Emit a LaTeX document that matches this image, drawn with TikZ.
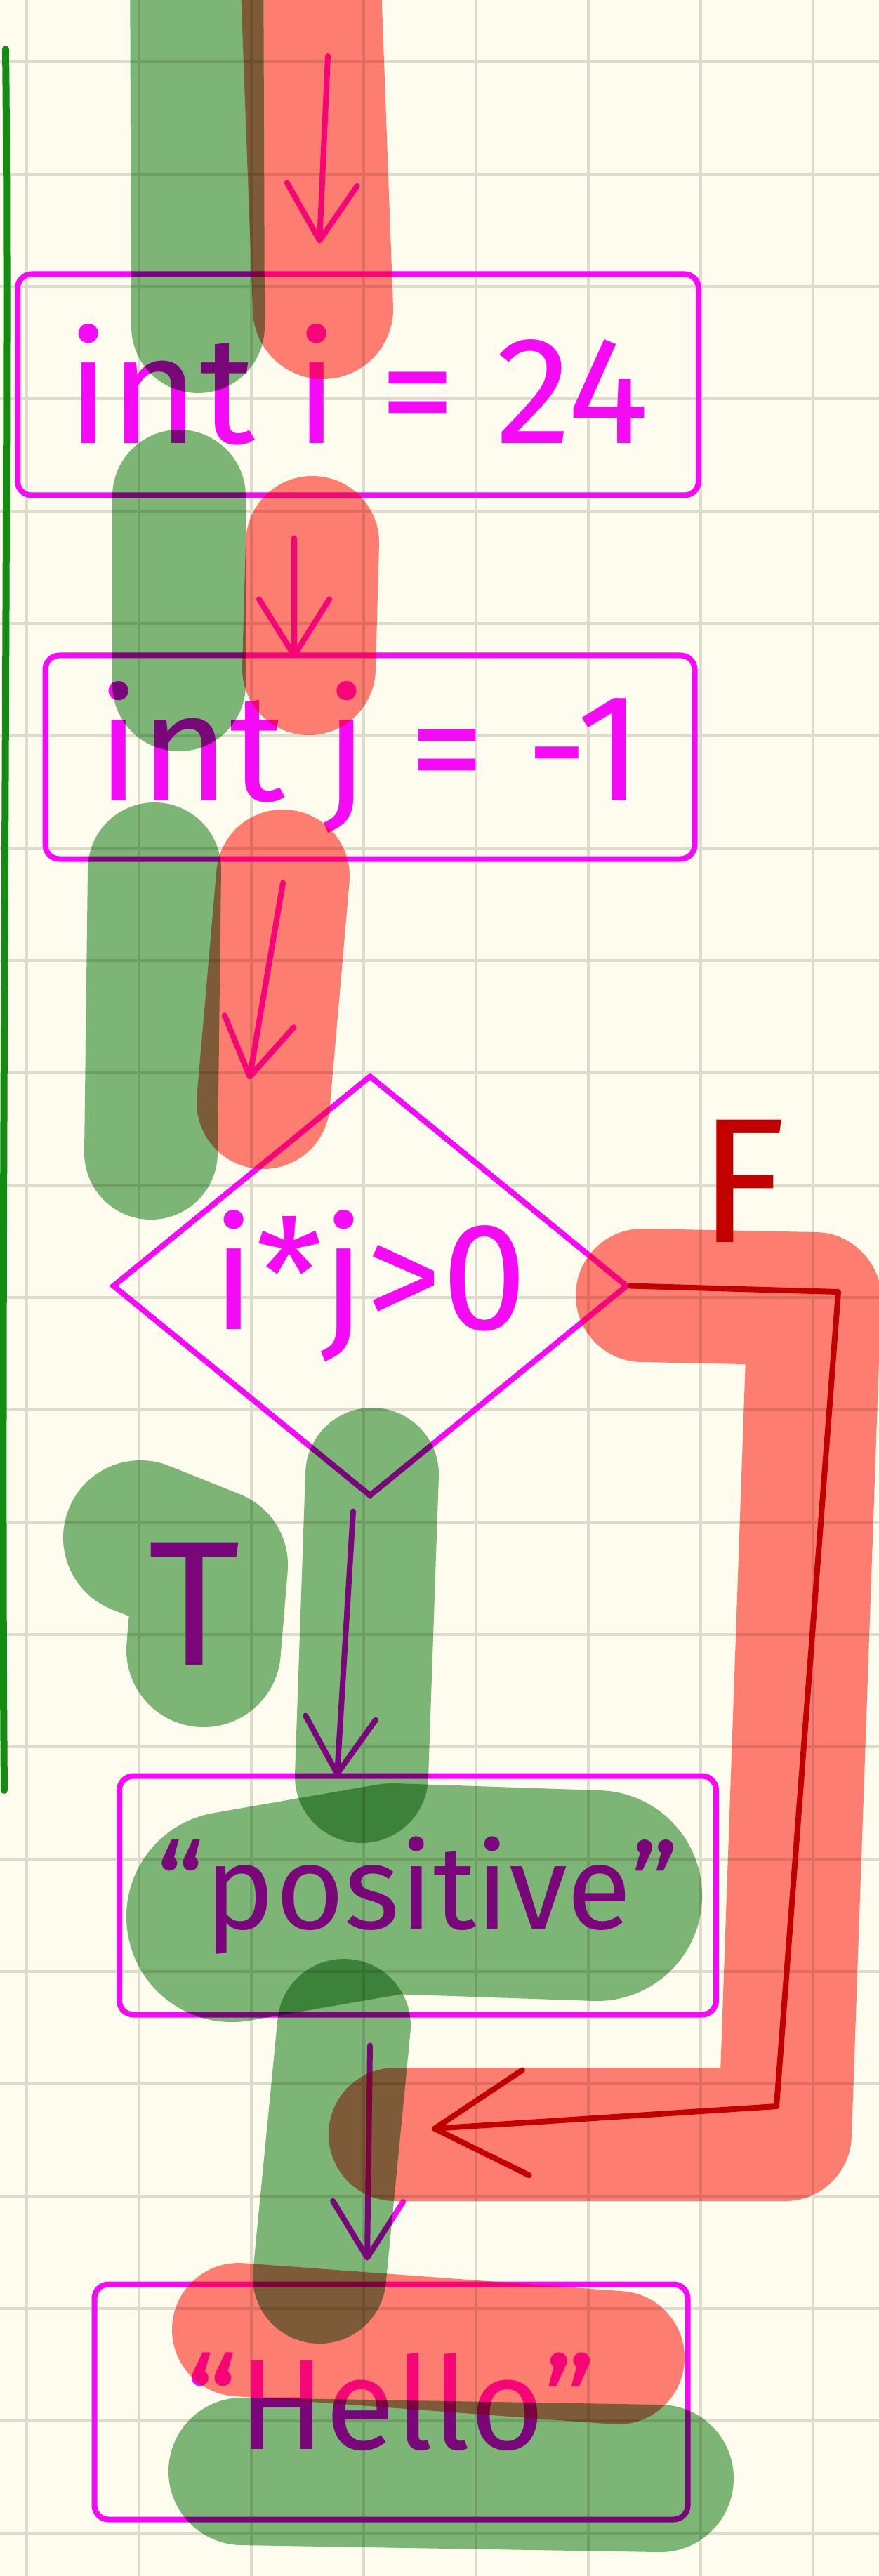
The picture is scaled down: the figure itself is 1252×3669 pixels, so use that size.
\documentclass[tikz,border=0pt]{standalone}
\usepackage{fontspec}
\setsansfont{Fira Sans}
\usetikzlibrary{arrows.meta, positioning, calc, shapes.geometric}

\definecolor{paper}{RGB}{253,252,238}
\definecolor{gridgray}{RGB}{222,219,205}
\definecolor{ink}{RGB}{245,10,245}
\definecolor{inkred}{RGB}{195,0,0}
\definecolor{margingreen}{RGB}{20,140,20}
\definecolor{hlgreen}{RGB}{126,184,128}
\definecolor{hlred}{RGB}{255,128,122}

\begin{document}
\begin{tikzpicture}[
    x=0.1mm, y=-0.1mm,
    node distance=22mm,
    stmt/.style={rectangle, draw=ink, line width=0.8mm, rounded corners=2mm,
                 inner sep=0pt, text=ink, font=\sffamily\fontsize{62}{64}\selectfont},
    decision/.style={diamond, shape aspect=1.22, draw=ink, line width=0.8mm, inner sep=0pt,
                 text=ink, font=\sffamily\fontsize{62}{64}\selectfont},
    branch/.style={font=\sffamily\fontsize{72}{74}\selectfont},
    flow/.style={draw=ink, line width=0.8mm, line cap=round, line join=round,
                 -{Straight Barb[round, length=8mm, width=10mm]}},
    falseflow/.style={draw=inkred, line width=0.8mm, line cap=round, line join=round,
                 -{Straight Barb[round, length=13mm, width=15mm]}},
    gridline/.style={draw=gridgray, line width=0.4mm},
    hlg/.style={draw=hlgreen, line width=19mm, line cap=round, line join=round, blend mode=multiply},
    hlr/.style={draw=hlred, line width=19mm, line cap=round, line join=round, blend mode=multiply}
]

% paper and grid
\fill[paper] (0,0) rectangle (1252,3669);
\useasboundingbox (0,0) rectangle (1252,3669);
\foreach \gx in {38,198,...,1158}
    \draw[gridline] (\gx,0) -- (\gx,3669);
\foreach \gy in {88,248,...,3608}
    \draw[gridline] (0,\gy) -- (1252,\gy);
\draw[margingreen, line width=1mm, line cap=round] (8,70) .. controls (14,600) and (0,1800) .. (6,2550);

% statements
\coordinate (entry) at (467,80);
\node[stmt, minimum width=97mm, minimum height=31.5mm] (init_i) at (510,548) {int i = 24};
\node[stmt, minimum width=92.5mm, minimum height=29mm, below=22mm of init_i, xshift=1.7mm] (init_j) {int j = -1};
\node[decision, minimum width=73.4mm, minimum height=60mm, below=30mm of init_j] (cond) {i*j>0};
\node[stmt, minimum width=85mm, minimum height=34mm, below=39mm of cond, xshift=6.8mm,
      font=\sffamily\fontsize{48}{50}\selectfont] (print_pos) {“positive”};
\node[stmt, minimum width=84.5mm, minimum height=33.5mm, below=37.6mm of print_pos, xshift=-3.8mm,
      font=\sffamily\fontsize{52}{54}\selectfont] (print_hello) {“Hello”};

% branch labels
\node[branch, text=ink] (lbl_t) at (277,2284) {T};
\node[branch, text=inkred] (lbl_f) at (1058,1682) {F};

% arrows
\draw[flow] (entry) -- ($(init_i.north)+(-55,-40)$);
\draw[flow] ($(init_i.south)+(-91,57)$) -- ($(init_j.north)+(-108,8)$);
\draw[flow] ($(init_j.south)+(-124,30)$) -- ($(cond.north)+(-172,10)$);
\draw[flow] ($(cond.south)+(-24,17)$) -- ($(print_pos.north)+(-115,5)$);
\draw[flow] ($(print_pos.south)+(-68,40)$) -- ($(print_hello.north)+(-34,-30)$);

% false branch
\coordinate (f_top) at (1194,1840);
\coordinate (f_bottom) at (1106,3000);
\coordinate (merge) at (615,3032);
\draw[falseflow] (cond.east) -- (f_top) -- (f_bottom) -- (merge);

% highlighter: true path
\draw[hlg] (280,-100) -- (282,465);
\draw[hlg] (255,707) -- (255,975);
\draw[hlg] (220,1238) -- (215,1642);
\draw[hlg, line width=22mm] (200,2190) -- (300,2230) -- (290,2350);
\draw[hlg] (530,2100) -- (515,2530);
\draw[hlg, line width=30mm] (330,2730) -- (560,2690) -- (850,2700);
\draw[hlg] (490,2885) -- (455,3243);
\draw[hlg, line width=21mm] (345,3520) -- (940,3530);

% highlighter: false path
\draw[hlr, line width=20mm] (440,-100) -- (460,440);
\draw[hlr] (445,773) -- (440,952);
\draw[hlr] (403,1248) -- (375,1570);
\draw[hlr] (915,1845) -- (1160,1850) -- (1118,3040) -- (563,3040);
\draw[hlr] (340,3318) -- (880,3358);

\end{tikzpicture}
\end{document}
